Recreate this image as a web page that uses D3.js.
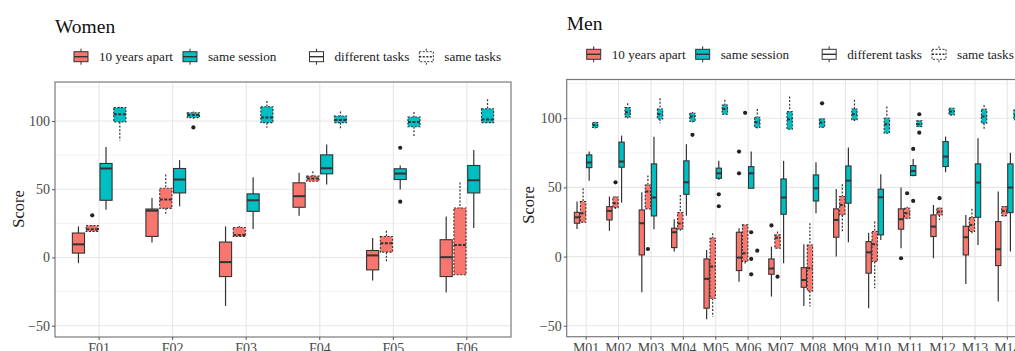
<!DOCTYPE html>
<html>
<head>
<meta charset="utf-8">
<script src="https://cdn.jsdelivr.net/npm/d3@7"></script>
<style>
  body { margin: 0; overflow: hidden; background: #fff; }
  svg text { font-family: "Liberation Serif", "Times New Roman", serif; }
</style>
</head>
<body>
<div id="chart"></div>
<script>
// categories
const womenCats = ['F01', 'F02', 'F03', 'F04', 'F05', 'F06'];
const menCats = ['M01', 'M02', 'M03', 'M04', 'M05', 'M06', 'M07', 'M08', 'M09', 'M10', 'M11', 'M12', 'M13', 'M14'];
const fillNames = ['10 years apart', 'same session'];
const taskNames = ['different tasks', 'same tasks'];
const yTicks = [-50, 0, 50, 100];
const yMinor = [-25, 25, 75, 125];

// box stats: [lower whisker, lower hinge, median, upper hinge, upper whisker]
const womenApartDiff = [[-4.2, 3.2, 9.6, 17.9, 22.8], [11, 15.4, 34.3, 35.5, 43.6], [-35.5, -14, -3.4, 11.3, 22.8], [30.6, 36.8, 44.9, 54.7, 62], [-16.9, -9.1, 1.5, 5.1, 14.2], [-25.7, -14, 0.2, 13, 30.1]];
const womenApartSame = [[19.1, 19.1, 20.6, 23.3, 23.6], [32, 36, 42.4, 50.7, 60.8], [15.4, 15.4, 16.5, 22, 23], [55.4, 55.9, 57.8, 59.6, 63.2], [-2.9, 3.9, 10.5, 15.4, 19.6], [-12.7, -12.7, 9.1, 36.3, 55]];
const womenSessionDiff = [[35, 41.9, 65.2, 68.9, 81], [37.5, 47.3, 57.1, 65.2, 71.3], [20.8, 33.8, 41.9, 46.6, 58.8], [53.4, 61.3, 65.4, 75.2, 82.8], [49.8, 57.1, 61.5, 65, 67.4], [21.6, 47.3, 56.6, 67.4, 78.7]];
const womenSessionSame = [[85.8, 99.3, 105, 109.8, 110.5], [101.7, 102.5, 104.4, 106.1, 106.9], [95, 98.8, 102.5, 110.5, 114.7], [94.6, 98.8, 100.7, 103.7, 106.9], [89, 95.8, 99.3, 102.9, 106.6], [98.5, 98.8, 101.2, 109, 115.9]];
// outliers per category
const womenApartDiffOut = [[], [], [], [], [], []];
const womenApartSameOut = [[30.9], [], [], [], [], []];
const womenSessionDiffOut = [[], [], [], [], [80.4, 40.9], []];
const womenSessionSameOut = [[], [95.3], [], [], [], []];

const menApartDiff = [[20, 24.1, 28.4, 32, 39.8], [18.6, 26.5, 33, 36.1, 43.4], [-25.8, 1.2, 24.1, 33.7, 46.5], [3.6, 6.5, 17.6, 20.5, 27], [-45.3, -37.3, -16.1, -1.7, 4.8], [-18.1, -10.1, -0.7, 17.6, 20.5], [-28.9, -12.8, -8.6, -1.7, 7.2], [-35.7, -22.2, -16.9, -8, 8.9], [0, 14, 26.5, 34.5, 48.9], [-37.3, -12, 3.1, 10.8, 17.3], [6, 19.8, 27, 34.5, 49.9], [-1.2, 14.5, 21.7, 30.1, 37.3], [-19.8, 1.2, 14, 21.9, 30.1], [-32.5, -6.5, 5.3, 25.3, 47]];
const menApartSame = [[24.8, 24.8, 31.3, 39.8, 49.4], [34.5, 35.4, 38.6, 43.1, 43.5], [34.5, 34.5, 47, 51.8, 58.6], [18.6, 20, 24, 31.8, 44.6], [-43.4, -30.1, -7.2, 13.3, 16.9], [-6, -3.6, 2.4, 22.9, 22.9], [6, 6, 13.7, 15.7, 18.1], [-36.1, -24.8, -8.4, 8.4, 24.1], [18.1, 30.1, 37.3, 43.4, 52.3], [-22.9, -3.6, 8.9, 18.1, 25.3], [27, 27.7, 31.3, 34.9, 36], [26.5, 30.1, 32.5, 34.9, 35.5], [16.9, 18.1, 22.9, 28.2, 34.5], [29, 29.6, 33, 36.1, 36.5]];
const menSessionDiff = [[54.9, 64.3, 68, 73.5, 75.9], [39, 64.6, 68.7, 82.7, 87.5], [19.8, 29.4, 42.7, 67, 86.7], [29.6, 45, 53.7, 69.2, 81.2], [55.4, 56.6, 60.2, 63.9, 69.2], [49.4, 49.4, 60.2, 65, 75.9], [-4.8, 30.6, 42.7, 56.1, 69.2], [31.3, 40.2, 49.4, 59, 68.2], [10.4, 38.6, 54.9, 65.5, 78.8], [12, 15.7, 42.9, 48.7, 59.5], [58, 58.6, 61.9, 65.8, 70.6], [61, 65.1, 72.3, 83.1, 86.7], [8.4, 28.4, 53.5, 67, 85.5], [3.6, 31.8, 49.9, 67, 75]];
const menSessionSame = [[92.5, 93.3, 94.9, 96.9, 97.5], [100, 101, 104.3, 107.7, 110.8], [96.4, 99.5, 102.9, 106.7, 114.5], [97, 97.6, 101.2, 103.6, 104.5], [102.5, 102.9, 106.7, 109.6, 113.3], [92.5, 93.3, 97.1, 100.7, 106.7], [92, 92, 99.3, 104.8, 115.7], [93, 93.5, 96.9, 99.5, 100], [98, 98.8, 102.9, 106.7, 113.3], [89.2, 89.2, 95.7, 100, 108.4], [93.5, 94, 95.7, 98.1, 98.5], [102, 102.4, 104.8, 107.2, 107.5], [92.3, 96.4, 101.2, 106.5, 109.6], [96, 99, 102, 106, 108]];
const menApartDiffOut = [[], [], [], [], [], [75.9, 60.2], [22.5], [], [], [], [-1.2], [], [], []];
const menApartSameOut = [[], [53.7], [5.5], [], [], [103.9], [-14.5], [], [], [], [45.8], [42.2], [], []];
const menSessionDiffOut = [[], [], [], [], [45, 36.4], [17.6, -1.7, -12.8], [], [], [], [], [77.8, 40.2], [], [], []];
const menSessionSameOut = [[], [], [], [88], [], [4.3], [], [110.8], [], [], [102.9, 89.6], [], [], []];

const colors = ['#F8766D', '#00BFC4'];
const ink = '#333333';

const svg = d3.select('#chart').append('svg')
	.attr('width', 1040)
	.attr('height', 351);

function buildBoxes(cats, series, outs) {
	const boxes = [];
	cats.forEach((c, i) => {
		series.forEach((s, k) => {
			const st = s[i];
			boxes.push({
				cat: c,
				k: k,
				fill: colors[Math.floor(k / 2)],
				dashed: k % 2 === 1,
				lo: st[0], q1: st[1], med: st[2], q3: st[3], hi: st[4],
				out: outs[k][i]
			});
		});
	});
	return boxes;
}

function drawPanel(opt) {
	const g = svg.append('g');
	const x = d3.scaleBand()
		.domain(opt.cats)
		.range([opt.left, opt.right])
		.paddingInner(0)
		.paddingOuter(0.1);
	const dodge = x.bandwidth() * 0.75;
	const sub = d3.scaleBand().domain(d3.range(4)).range([0, dodge]);
	const y = d3.scaleLinear().domain(opt.yDomain).range([opt.bottom, opt.top]);
	const bw = sub.bandwidth() * 0.88;
	const cx = d => x(d.cat) + x.bandwidth() / 2 - dodge / 2 + sub(d.k) + sub.bandwidth() / 2;

	// grid
	g.selectAll('.minor').data(yMinor).join('line')
		.attr('x1', opt.left).attr('x2', opt.right)
		.attr('y1', d => y(d)).attr('y2', d => y(d))
		.attr('stroke', '#f3f3f3').attr('stroke-width', 1);
	g.selectAll('.major').data(yTicks).join('line')
		.attr('x1', opt.left).attr('x2', opt.right)
		.attr('y1', d => y(d)).attr('y2', d => y(d))
		.attr('stroke', '#e6e6e6').attr('stroke-width', 1.1);
	g.selectAll('.vgrid').data(opt.cats).join('line')
		.attr('x1', d => x(d) + x.bandwidth() / 2).attr('x2', d => x(d) + x.bandwidth() / 2)
		.attr('y1', opt.top).attr('y2', opt.bottom)
		.attr('stroke', '#e6e6e6').attr('stroke-width', 1.1);

	const boxes = buildBoxes(opt.cats, opt.series, opt.outs);
	const bg = g.selectAll('.box').data(boxes).join('g').attr('class', 'box');
	const dash = d => d.dashed ? '2,1.6' : null;

	bg.append('line')
		.attr('x1', cx).attr('x2', cx)
		.attr('y1', d => y(d.hi)).attr('y2', d => y(d.q3))
		.attr('stroke', ink).attr('stroke-width', 1.2)
		.attr('stroke-dasharray', dash);
	bg.append('line')
		.attr('x1', cx).attr('x2', cx)
		.attr('y1', d => y(d.q1)).attr('y2', d => y(d.lo))
		.attr('stroke', ink).attr('stroke-width', 1.2)
		.attr('stroke-dasharray', dash);
	bg.append('rect')
		.attr('x', d => cx(d) - bw / 2)
		.attr('y', d => y(d.q3))
		.attr('width', bw)
		.attr('height', d => Math.max(1, y(d.q1) - y(d.q3)))
		.attr('fill', d => d.fill)
		.attr('stroke', ink)
		.attr('stroke-width', 1.1)
		.attr('stroke-dasharray', dash);
	bg.append('line')
		.attr('x1', d => cx(d) - bw / 2).attr('x2', d => cx(d) + bw / 2)
		.attr('y1', d => y(d.med)).attr('y2', d => y(d.med))
		.attr('stroke', ink).attr('stroke-width', 2)
		.attr('stroke-dasharray', d => d.dashed ? '3,1.5' : null);
	bg.selectAll('circle').data(d => d.out.map(v => ({ v: v, x: cx(d) }))).join('circle')
		.attr('cx', d => d.x)
		.attr('cy', d => y(d.v))
		.attr('r', 2.1)
		.attr('fill', '#222');

	// border
	g.append('rect')
		.attr('x', opt.left).attr('y', opt.top)
		.attr('width', opt.right - opt.left).attr('height', opt.bottom - opt.top)
		.attr('fill', 'none').attr('stroke', '#7a7a7a').attr('stroke-width', 1.2);

	// axes
	const ya = g.append('g')
		.attr('transform', 'translate(' + opt.left + ',0)')
		.call(d3.axisLeft(y).tickValues(yTicks).tickSize(3).tickSizeOuter(0).tickPadding(2));
	const xa = g.append('g')
		.attr('transform', 'translate(0,' + opt.bottom + ')')
		.call(d3.axisBottom(x).tickSize(3).tickSizeOuter(0).tickPadding(3));
	[ya, xa].forEach(a => {
		a.select('.domain').remove();
		a.selectAll('line').attr('stroke', '#555');
		a.selectAll('text')
			.attr('fill', '#4a4a4a')
			.style('font-family', '"Liberation Serif", serif')
			.style('font-size', '14px');
	});

	// y title
	g.append('text')
		.attr('transform', 'translate(' + opt.yTitleX + ',' + opt.yTitleY + ') rotate(-90)')
		.attr('text-anchor', 'middle')
		.attr('dy', '0.35em')
		.attr('fill', '#1a1a1a')
		.style('font-size', '16.5px')
		.text('Score');

	// title
	g.append('text')
		.attr('x', opt.left)
		.attr('y', opt.titleY)
		.attr('fill', '#111')
		.style('font-size', '19.5px')
		.text(opt.title);

	drawLegend(g, opt.legendX, opt.legendY);
}

function legendKey(g, x0, cy, fill, dashed) {
	const w = 14, cxk = x0 + w / 2;
	const da = dashed ? '2,1.5' : null;
	g.append('line').attr('x1', cxk).attr('x2', cxk).attr('y1', cy - 8).attr('y2', cy + 8)
		.attr('stroke', ink).attr('stroke-width', 1).attr('stroke-dasharray', da);
	g.append('rect').attr('x', x0).attr('y', cy - 5).attr('width', w).attr('height', 10)
		.attr('fill', fill).attr('stroke', ink).attr('stroke-width', 1).attr('stroke-dasharray', da);
	g.append('line').attr('x1', x0).attr('x2', x0 + w).attr('y1', cy).attr('y2', cy)
		.attr('stroke', ink).attr('stroke-width', 1.4).attr('stroke-dasharray', da);
}

function drawLegend(g, x0, cy) {
	const items = [
		{ label: fillNames[0], fill: colors[0], dashed: false, gap: 0 },
		{ label: fillNames[1], fill: colors[1], dashed: false, gap: 10 },
		{ label: taskNames[0], fill: '#fff', dashed: false, gap: 33 },
		{ label: taskNames[1], fill: '#fff', dashed: true, gap: 10 }
	];
	let x = x0;
	items.forEach(it => {
		x += it.gap;
		legendKey(g, x, cy, it.fill, it.dashed);
		const t = g.append('text')
			.attr('x', x + 25)
			.attr('y', cy)
			.attr('dy', '0.35em')
			.attr('fill', '#1a1a1a')
			.style('font-size', '13.2px')
			.text(it.label);
		x = x + 25 + t.node().getComputedTextLength();
	});
}

drawPanel({
	title: 'Women',
	cats: womenCats,
	series: [womenApartDiff, womenApartSame, womenSessionDiff, womenSessionSame],
	outs: [womenApartDiffOut, womenApartSameOut, womenSessionDiffOut, womenSessionSameOut],
	left: 55, right: 511, top: 82, bottom: 337,
	yDomain: [-58.3, 128.6],
	yTitleX: 18, yTitleY: 209,
	titleY: 32.5,
	legendX: 74, legendY: 56.7
});

drawPanel({
	title: 'Men',
	cats: menCats,
	series: [menApartDiff, menApartSame, menSessionDiff, menSessionSame],
	outs: [menApartDiffOut, menApartSameOut, menSessionDiffOut, menSessionSameOut],
	left: 566.7, right: 1026.8, top: 79.5, bottom: 336.7,
	yDomain: [-57.9, 128],
	yTitleX: 528.5, yTitleY: 205,
	titleY: 29.5,
	legendX: 586.7, legendY: 54.3
});
</script>
</body>
</html>
